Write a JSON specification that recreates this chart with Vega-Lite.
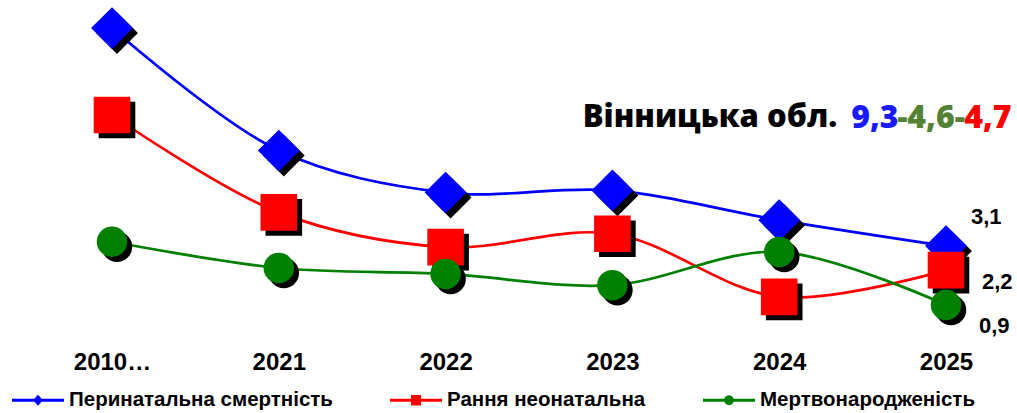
{
  "$schema": "https://vega.github.io/schema/vega-lite/v6.json",
  "width": 834,
  "height": 321,
  "autosize": "none",
  "padding": {"left": 112, "top": 8, "right": 71, "bottom": 84},
  "config": {
    "view": {"stroke": null},
    "font": "Liberation Sans",
    "locale": {"number": {"decimal": ",", "thousands": " ", "grouping": [3], "currency": ["", ""]}}
  },
  "datasets": {
    "main": [
      {"year": "2010…", "series": "Перинатальна смертність", "value": 11.25},
      {"year": "2021", "series": "Перинатальна смертність", "value": 6.67},
      {"year": "2022", "series": "Перинатальна смертність", "value": 5.1},
      {"year": "2023", "series": "Перинатальна смертність", "value": 5.18},
      {"year": "2024", "series": "Перинатальна смертність", "value": 4.07},
      {"year": "2025", "series": "Перинатальна смертність", "value": 3.1},
      {"year": "2010…", "series": "Рання неонатальна", "value": 8.0},
      {"year": "2021", "series": "Рання неонатальна", "value": 4.36},
      {"year": "2022", "series": "Рання неонатальна", "value": 3.06},
      {"year": "2023", "series": "Рання неонатальна", "value": 3.56},
      {"year": "2024", "series": "Рання неонатальна", "value": 1.2},
      {"year": "2025", "series": "Рання неонатальна", "value": 2.2},
      {"year": "2010…", "series": "Мертвонародженість", "value": 3.26},
      {"year": "2021", "series": "Мертвонародженість", "value": 2.28},
      {"year": "2022", "series": "Мертвонародженість", "value": 2.06},
      {"year": "2023", "series": "Мертвонародженість", "value": 1.64},
      {"year": "2024", "series": "Мертвонародженість", "value": 2.88},
      {"year": "2025", "series": "Мертвонародженість", "value": 0.9}
    ],
    "title": [{"year": "2024", "value": 7.9}]
  },
  "data": {"name": "main"},
  "encoding": {
    "x": {
      "field": "year", "type": "ordinal", "sort": null,
      "scale": {"type": "point", "padding": 0},
      "axis": {"title": null, "ticks": false, "domain": false, "labelAngle": 0, "labelPadding": 21,
               "labelFont": "Liberation Sans", "labelFontWeight": "bold", "labelFontSize": 24, "labelColor": "#000000", "grid": false}
    },
    "y": {
      "field": "value", "type": "quantitative",
      "scale": {"domain": [0, 12], "nice": false, "zero": true},
      "axis": null
    }
  },
  "layer": [
    {
      "mark": {"type": "line", "interpolate": "catmull-rom", "strokeWidth": 2.7},
      "encoding": {
        "color": {"field": "series", "type": "nominal", "legend": null,
          "scale": {"domain": ["Перинатальна смертність", "Рання неонатальна", "Мертвонародженість"], "range": ["#0000ff", "#ff0000", "#008000"]}}
      }
    },
    {
      "mark": {"type": "point", "filled": true, "opacity": 1, "color": "#000000", "xOffset": 5, "yOffset": 5},
      "encoding": {
        "shape": {"field": "series", "type": "nominal", "legend": null,
          "scale": {"domain": ["Перинатальна смертність", "Рання неонатальна", "Мертвонародженість"], "range": ["diamond", "square", "circle"]}},
        "size": {"field": "series", "type": "nominal", "legend": null,
          "scale": {"domain": ["Перинатальна смертність", "Рання неонатальна", "Мертвонародженість"], "range": [1750, 930, 740]}}
      }
    },
    {
      "mark": {"type": "point", "filled": true, "opacity": 1},
      "encoding": {
        "color": {"field": "series", "type": "nominal", "legend": null,
          "scale": {"domain": ["Перинатальна смертність", "Рання неонатальна", "Мертвонародженість"], "range": ["#0000ff", "#ff0000", "#008000"]}},
        "shape": {"field": "series", "type": "nominal", "legend": null,
          "scale": {"domain": ["Перинатальна смертність", "Рання неонатальна", "Мертвонародженість"], "range": ["diamond", "square", "circle"]}},
        "size": {"field": "series", "type": "nominal", "legend": null,
          "scale": {"domain": ["Перинатальна смертність", "Рання неонатальна", "Мертвонародженість"], "range": [1750, 930, 740]}}
      }
    },
    {
      "transform": [{"filter": "datum.year == 'none'"}],
      "mark": {"type": "point", "filled": true, "opacity": 1},
      "encoding": {
        "color": {"field": "series", "type": "nominal",
          "scale": {"domain": ["Перинатальна смертність", "Рання неонатальна", "Мертвонародженість"], "range": ["#0000ff", "#ff0000", "#008000"]},
          "legend": {"title": null, "orient": "none", "direction": "horizontal", "legendX": -100, "legendY": 366,
            "symbolSize": 2704, "symbolStrokeWidth": 0, "symbolOpacity": 1, "labelFont": "Liberation Sans", "labelFontWeight": "bold",
            "labelFontSize": 20.5, "labelColor": "#000000", "labelOffset": 5, "columnPadding": 57, "padding": 0, "labelLimit": 400}},
        "shape": {"field": "series", "type": "nominal",
          "scale": {"domain": ["Перинатальна смертність", "Рання неонатальна", "Мертвонародженість"],
            "range": [
              "M-1,-0.06L-0.14,-0.06L0,-0.21L0.14,-0.06L1,-0.06L1,0.06L0.14,0.06L0,0.21L-0.14,0.06L-1,0.06Z",
              "M-1,-0.06L-0.19,-0.06L-0.19,-0.2L0.19,-0.2L0.19,-0.06L1,-0.06L1,0.06L0.19,0.06L0.19,0.2L-0.19,0.2L-0.19,0.06L-1,0.06Z",
              "M-1,-0.06L-0.18,-0.06A0.19,0.19 0 0 1 0.18,-0.06L1,-0.06L1,0.06L0.18,0.06A0.19,0.19 0 0 1 -0.18,0.06L-1,0.06Z"
            ]},
          "legend": {"title": null, "orient": "none", "direction": "horizontal", "legendX": -100, "legendY": 366,
            "symbolSize": 2704, "symbolStrokeWidth": 0, "symbolOpacity": 1, "labelFont": "Liberation Sans", "labelFontWeight": "bold",
            "labelFontSize": 20.5, "labelColor": "#000000", "labelOffset": 5, "columnPadding": 57, "padding": 0, "labelLimit": 400}}
      }
    },
    {
      "transform": [{"filter": "datum.year == '2025' && datum.series == 'Перинатальна смертність'"}],
      "mark": {"type": "text", "align": "left", "baseline": "middle", "dx": 25, "dy": -29, "font": "Liberation Sans", "fontWeight": "bold", "fontSize": 22, "color": "#000000"},
      "encoding": {"text": {"field": "value", "type": "quantitative", "format": ".1f"}}
    },
    {
      "transform": [{"filter": "datum.year == '2025' && datum.series == 'Рання неонатальна'"}],
      "mark": {"type": "text", "align": "left", "baseline": "middle", "dx": 36, "dy": 12, "font": "Liberation Sans", "fontWeight": "bold", "fontSize": 22, "color": "#000000"},
      "encoding": {"text": {"field": "value", "type": "quantitative", "format": ".1f"}}
    },
    {
      "transform": [{"filter": "datum.year == '2025' && datum.series == 'Мертвонародженість'"}],
      "mark": {"type": "text", "align": "left", "baseline": "middle", "dx": 33, "dy": 21, "font": "Liberation Sans", "fontWeight": "bold", "fontSize": 22, "color": "#000000"},
      "encoding": {"text": {"field": "value", "type": "quantitative", "format": ".1f"}}
    },
    {
      "data": {"name": "title"},
      "mark": {"type": "text", "align": "right", "baseline": "middle", "dx": 58, "text": "Вінницька обл.", "font": "Open Sans", "fontWeight": 800, "fontSize": 31, "color": "#000000"}
    },
    {
      "data": {"name": "title"},
      "mark": {"type": "text", "align": "left", "baseline": "middle", "dx": 72, "text": "9,3", "font": "Open Sans", "fontWeight": 800, "fontSize": 32, "color": "#1a1aff"}
    },
    {
      "data": {"name": "title"},
      "mark": {"type": "text", "align": "left", "baseline": "middle", "dx": 118, "text": "-4,6-", "font": "Open Sans", "fontWeight": 800, "fontSize": 32, "color": "#548235"}
    },
    {
      "data": {"name": "title"},
      "mark": {"type": "text", "align": "left", "baseline": "middle", "dx": 185, "text": "4,7", "font": "Open Sans", "fontWeight": 800, "fontSize": 32, "color": "#ff0000"}
    }
  ],
  "resolve": {"scale": {"color": "independent", "shape": "independent", "size": "independent"}, "legend": {"color": "independent", "shape": "independent"}}
}
